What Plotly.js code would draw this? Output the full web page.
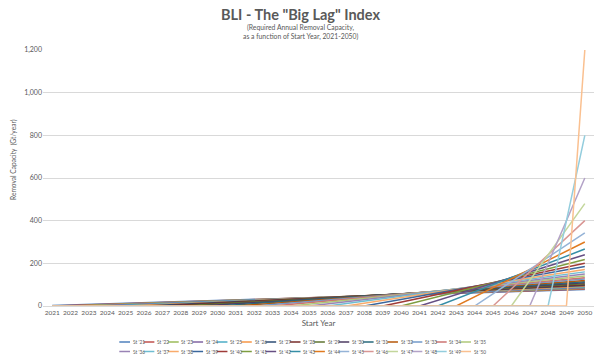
<!DOCTYPE html>
<html>
<head>
<meta charset="utf-8">
<script src="https://cdn.plot.ly/plotly-3.0.1.min.js"></script>
<style>
html,body{margin:0;padding:0;background:#fff;}
#chart{width:600px;height:358px;}
</style>
</head>
<body>
<div id="chart"></div>
<script>
// ---- Data ----
const years = [2021,2022,2023,2024,2025,2026,2027,2028,2029,2030,2031,2032,2033,2034,2035,2036,2037,2038,2039,2040,2041,2042,2043,2044,2045,2046,2047,2048,2049,2050];
const seriesNames = ["St '21","St '22","St '23","St '24","St '25","St '26","St '27","St '28","St '29","St '30","St '31","St '32","St '33","St '34","St '35","St '36","St '37","St '38","St '39","St '40","St '41","St '42","St '43","St '44","St '45","St '46","St '47","St '48","St '49","St '50"];
// year in which each series is still at zero (ramp starts there)
const rampStartYear = [2021,2021,2022,2023,2024,2025,2026,2027,2028,2029,2030,2031,2032,2033,2034,2035,2036,2037,2038,2039,2040,2041,2042,2043,2044,2045,2046,2047,2048,2049];
// value at the ramp start year (St '21 is already slightly above zero in 2021)
const rampStartValue = [2.6,0,0,0,0,0,0,0,0,0,0,0,0,0,0,0,0,0,0,0,0,0,0,0,0,0,0,0,0,0];
// value reached in 2050 (Gt/year)
const value2050 = [77,80,83,86,89,92,96,100,104,109,114,120,126,133,141,150,160,171,185,200,218,240,267,300,343,400,480,600,800,1200];
const colors = ["#4F81BD","#C0504D","#9BBB59","#8064A2","#4BACC6","#F79646",
                "#2C4D75","#772C2A","#5F7530","#4D3B62","#276A7C","#B65708",
                "#729ACA","#CD7371","#AFC97A","#9983B5","#6FBDD1","#F9AB6B",
                "#3A679C","#9F3B38","#7E9D40","#664F83","#358EA6","#E07A1F",
                "#95B3D7","#D99694","#C3D69B","#B3A2C7","#93CDDD","#FAC090"];

const FONT = "Lato, 'Open Sans', sans-serif";
const W = 600, H = 358;
const M = {l:43, r:6, t:50, b:52};

const traces = seriesNames.map((name, i) => {
  const xs = [], ys = [];
  if (rampStartYear[i] > years[0]) { xs.push(years[0]); ys.push(0); }
  xs.push(rampStartYear[i]); ys.push(rampStartValue[i]);
  xs.push(years[years.length-1]); ys.push(value2050[i]);
  return {
    type:'scatter', mode:'lines', name:name, x:xs, y:ys,
    line:{color:colors[i], width:1.5}, showlegend:false, hoverinfo:'skip'
  };
});

// pixel -> paper helpers
const px2x = p => (p - M.l) / (W - M.l - M.r);
const py2y = p => (H - M.b - p) / (H - M.t - M.b);
const shapes = [], annotations = [];
// custom compact legend (two rows of 15)
const legX0 = 119.3, legDX = 24.36, legRows = [342, 351.5];
seriesNames.forEach((name, i) => {
  const row = Math.floor(i / 15), col = i % 15;
  const x = legX0 + col * legDX, y = legRows[row];
  shapes.push({type:'line', xref:'paper', yref:'paper',
    x0:px2x(x), x1:px2x(x+10.7), y0:py2y(y), y1:py2y(y),
    line:{color:colors[i], width:1.5}});
  annotations.push({xref:'paper', yref:'paper', x:px2x(x+11.4), y:py2y(y),
    xanchor:'left', yanchor:'middle', showarrow:false, text:name,
    font:{family:FONT, size:4.8, color:'#595959'}});
});
// titles
annotations.push({xref:'paper', yref:'paper', x:px2x(300), y:py2y(14.5), xanchor:'center', yanchor:'middle',
  showarrow:false, text:'<b>BLI - The "Big Lag" Index</b>', font:{family:FONT, size:14.5, color:'#595959'}});
annotations.push({xref:'paper', yref:'paper', x:px2x(300), y:py2y(27), xanchor:'center', yanchor:'middle',
  showarrow:false, text:'(Required Annual Removal Capacity,', font:{family:FONT, size:6.8, color:'#595959'}});
annotations.push({xref:'paper', yref:'paper', x:px2x(300), y:py2y(36), xanchor:'center', yanchor:'middle',
  showarrow:false, text:'as a function of Start Year, 2021-2050)', font:{family:FONT, size:6.8, color:'#595959'}});
// y-axis title
annotations.push({xref:'paper', yref:'paper', x:px2x(13), y:py2y(160), xanchor:'center', yanchor:'middle',
  textangle:-90, showarrow:false, text:'Removal Capacity&nbsp;&nbsp;(Gt/year)', font:{family:FONT, size:6.6, color:'#595959'}});

const layout = {
  width:W, height:H, margin:M, paper_bgcolor:'#fff', plot_bgcolor:'#fff',
  font:{family:FONT, color:'#595959'},
  showlegend:false,
  xaxis:{type:'linear', range:[2020.5, 2050.5], tickvals:years, ticktext:years.map(String),
    tickfont:{size:6.5, color:'#595959'}, showgrid:false, zeroline:false,
    showline:true, linecolor:'#D9D9D9', linewidth:1, ticks:'', fixedrange:true,
    title:{text:'Start Year', font:{size:8, color:'#595959'}, standoff:5}},
  yaxis:{range:[0,1200], dtick:200, tickformat:',d', tickfont:{size:7, color:'#595959'},
    gridcolor:'#D9D9D9', gridwidth:1, zeroline:false, showline:false, ticks:'', fixedrange:true},
  shapes:shapes, annotations:annotations
};

Plotly.newPlot('chart', traces, layout, {staticPlot:true, displayModeBar:false});
</script>
</body>
</html>
